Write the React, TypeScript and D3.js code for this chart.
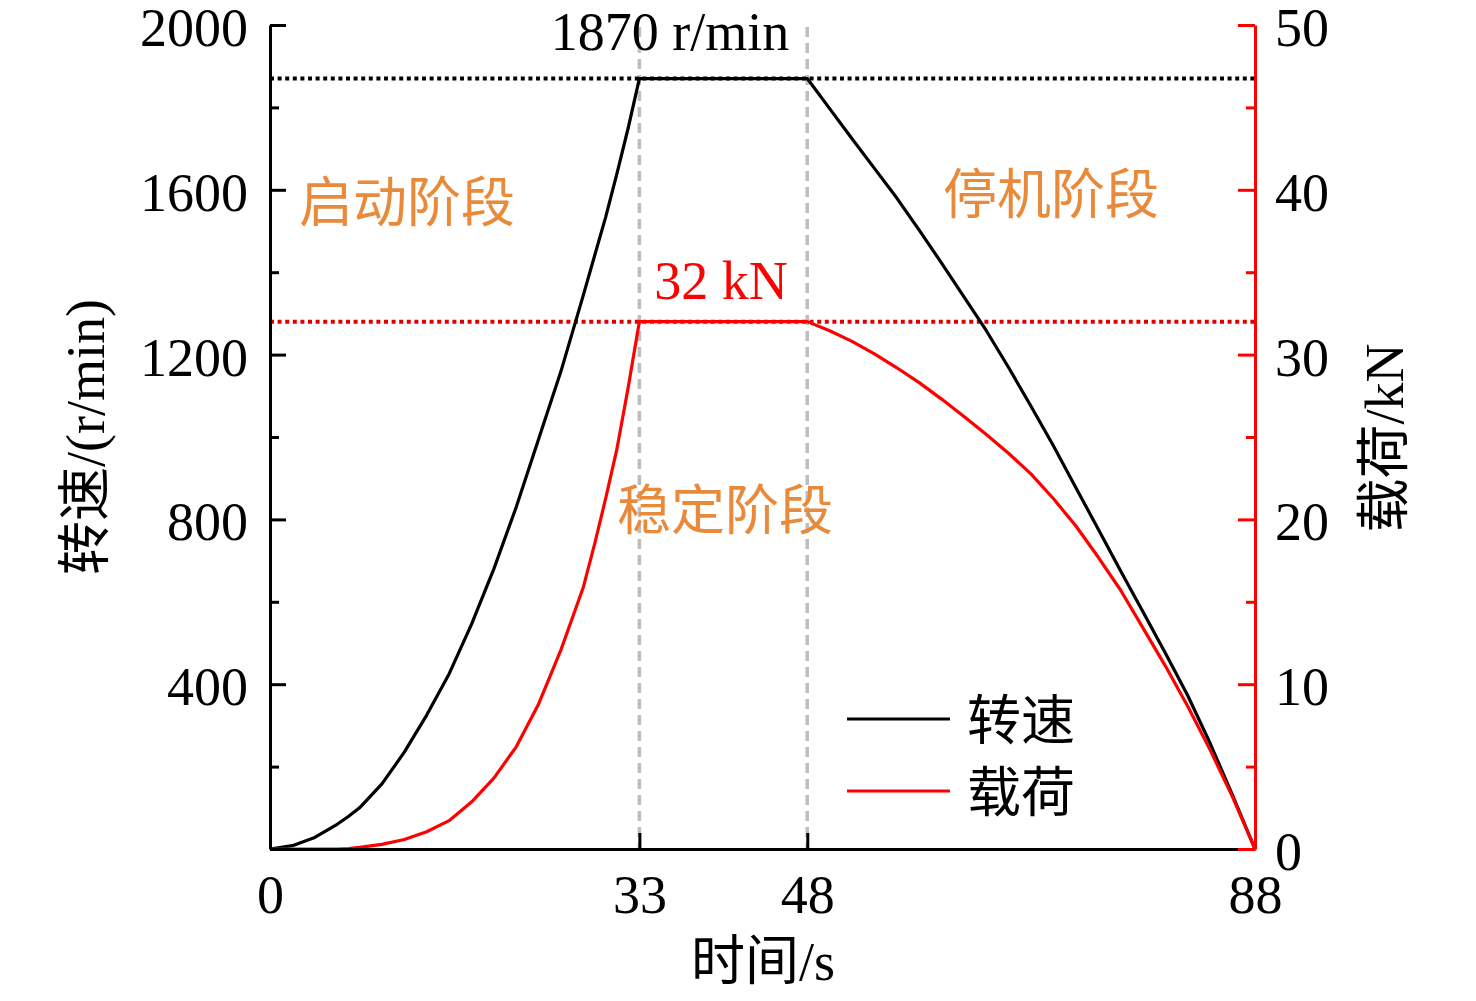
import React, { useRef, useEffect } from 'react';
import * as d3 from 'd3';

// sample times (s) shared by both series
const TIMES = [0, 2, 4, 6, 7, 8, 10, 12, 14, 16, 18, 20, 22, 24, 26, 28, 29, 30, 31, 32, 33,
  48, 50, 52, 54, 56, 58, 60, 62, 64, 66, 68, 70, 72, 74, 76, 78, 80, 82, 84, 86, 88];

// rotational speed, r/min
const SPEED = [0, 8, 28, 60, 79, 100, 158, 235, 325, 425, 545, 680, 830, 995, 1160, 1345, 1440, 1535, 1640, 1750, 1870,
  1870, 1797, 1724, 1652, 1580, 1502, 1422, 1340, 1258, 1168, 1074, 978, 877, 776, 675, 575, 475, 372, 256, 130, 0];

// load, kN
const LOAD = [0, 0, 0, 0, 0.03, 0.1, 0.28, 0.58, 1.05, 1.72, 2.85, 4.3, 6.2, 8.8, 12.1, 15.9, 18.5, 21.3, 24.3, 28.0, 32,
  32, 31.45, 30.8, 30.05, 29.2, 28.3, 27.3, 26.25, 25.15, 24.0, 22.75, 21.25, 19.6, 17.7, 15.7, 13.4, 11.1, 8.65, 6.0, 3.15, 0];

const X_TICKS = [0, 33, 48, 88];
const SPEED_TICKS = [0, 400, 800, 1200, 1600, 2000];
const SPEED_MINOR = [200, 600, 1000, 1400, 1800];
const LOAD_TICKS = [0, 10, 20, 30, 40, 50];
const LOAD_MINOR = [5, 15, 25, 35, 45];

const PEAK_SPEED = 1870;
const PEAK_LOAD = 32;
const PHASE_BOUNDS = [33, 48];

const SERIF = '"Liberation Serif", "Times New Roman", "Noto Sans CJK SC", serif';
const ORANGE = '#E98A3B';
const RED = '#FF0000';

const App: React.FC = () => {
  const svgRef = useRef<SVGSVGElement>(null);

  useEffect(() => {
    if (!svgRef.current) return;
    const W = 1476, H = 1001;
    const left = 270, right = 1255, top = 25, bottom = 849;

    const svg = d3.select(svgRef.current);
    svg.selectAll('*').remove();
    svg.attr('width', W).attr('height', H).attr('viewBox', `0 0 ${W} ${H}`);

    const x = d3.scaleLinear().domain([0, 88]).range([left, right]);
    const yS = d3.scaleLinear().domain([0, 2000]).range([bottom, top]);
    const yL = d3.scaleLinear().domain([0, 50]).range([bottom, top]);

    const styleText = (sel: d3.Selection<any, any, any, any>, color: string) =>
      sel.selectAll('text')
        .attr('fill', color)
        .attr('font-size', '54px')
        .attr('font-family', SERIF);

    // reference lines
    PHASE_BOUNDS.forEach(t => {
      svg.append('line')
        .attr('x1', x(t)).attr('x2', x(t))
        .attr('y1', top + 2).attr('y2', bottom)
        .attr('stroke', '#BDBDBD').attr('stroke-width', 3.5)
        .attr('stroke-dasharray', '10,6');
    });
    svg.append('line')
      .attr('x1', left).attr('x2', right)
      .attr('y1', yS(PEAK_SPEED)).attr('y2', yS(PEAK_SPEED))
      .attr('stroke', '#000').attr('stroke-width', 4)
      .attr('stroke-dasharray', '4,3.6');
    svg.append('line')
      .attr('x1', left).attr('x2', right)
      .attr('y1', yL(PEAK_LOAD)).attr('y2', yL(PEAK_LOAD))
      .attr('stroke', '#E00000').attr('stroke-width', 4)
      .attr('stroke-dasharray', '4,3.6');

    // series
    const speedLine = d3.line<number>().x((_, i) => x(TIMES[i])).y(d => yS(d));
    const loadLine = d3.line<number>().x((_, i) => x(TIMES[i])).y(d => yL(d));
    svg.append('path').datum(SPEED).attr('d', speedLine)
      .attr('fill', 'none').attr('stroke', '#000').attr('stroke-width', 3.2).attr('stroke-linejoin', 'round');
    svg.append('path').datum(LOAD).attr('d', loadLine)
      .attr('fill', 'none').attr('stroke', RED).attr('stroke-width', 3.2).attr('stroke-linejoin', 'round');

    // x axis
    const gx = svg.append('g').attr('transform', `translate(0,${bottom})`)
      .call(d3.axisBottom(x).tickValues(X_TICKS).tickSize(-16).tickSizeOuter(0).tickPadding(26).tickFormat(d3.format('d')));
    gx.select('.domain').attr('stroke', '#000').attr('stroke-width', 3);
    gx.selectAll('line').attr('stroke', '#000').attr('stroke-width', 3);
    styleText(gx, '#000');

    // left axis
    const gl = svg.append('g').attr('transform', `translate(${left},0)`);
    gl.append('g').call(d3.axisLeft(yS).tickValues(SPEED_MINOR).tickSize(-9).tickSizeOuter(0).tickFormat(() => ''))
      .call(g => g.select('.domain').remove())
      .selectAll('line').attr('stroke', '#000').attr('stroke-width', 3);
    const glm = gl.append('g')
      .call(d3.axisLeft(yS).tickValues(SPEED_TICKS).tickSize(-16).tickSizeOuter(0).tickPadding(22)
        .tickFormat(d => (+d === 0 ? '' : String(d))));
    glm.select('.domain').attr('stroke', '#000').attr('stroke-width', 3);
    glm.selectAll('line').attr('stroke', '#000').attr('stroke-width', 3);
    styleText(glm, '#000');
    glm.selectAll('text').attr('dy', '0.38em');

    // right axis
    const gr = svg.append('g').attr('transform', `translate(${right},0)`);
    gr.append('g').call(d3.axisRight(yL).tickValues(LOAD_MINOR).tickSize(-9).tickSizeOuter(0).tickFormat(() => ''))
      .call(g => g.select('.domain').remove())
      .selectAll('line').attr('stroke', RED).attr('stroke-width', 3);
    const grm = gr.append('g')
      .call(d3.axisRight(yL).tickValues(LOAD_TICKS).tickSize(-17).tickSizeOuter(0).tickPadding(20).tickFormat(d3.format('d')));
    grm.select('.domain').attr('stroke', RED).attr('stroke-width', 3);
    grm.selectAll('line').attr('stroke', RED).attr('stroke-width', 3);
    styleText(grm, '#000');
    grm.selectAll('text').attr('dy', '0.38em');

    // axis titles
    const label = (tx: number, ty: number, text: string, color: string, rotate = 0) =>
      svg.append('text')
        .attr('transform', `translate(${tx},${ty}) rotate(${rotate})`)
        .attr('text-anchor', 'middle')
        .attr('dominant-baseline', 'central')
        .attr('font-size', '54px')
        .attr('font-family', SERIF)
        .attr('fill', color)
        .text(text);

    label(763, 962, '时间/s', '#000');
    label(86, 437, '转速/(r/min)', '#000', -90);
    label(1385, 438, '载荷/kN', '#000', -90);

    // annotations
    label(670, 32, `${PEAK_SPEED} r/min`, '#000');
    label(721, 281, `${PEAK_LOAD} kN`, RED);
    label(407, 204, '启动阶段', ORANGE);
    label(1051, 196, '停机阶段', ORANGE);
    label(725, 512, '稳定阶段', ORANGE);

    // legend
    const legend = [
      { name: '转速', color: '#000', y: 719 },
      { name: '载荷', color: RED, y: 791 },
    ];
    legend.forEach(l => {
      svg.append('line').attr('x1', 847).attr('x2', 950).attr('y1', l.y).attr('y2', l.y)
        .attr('stroke', l.color).attr('stroke-width', 3);
      svg.append('text').attr('x', 967).attr('y', l.y + 3)
        .attr('dominant-baseline', 'central')
        .attr('font-size', '54px').attr('font-family', SERIF).attr('fill', '#000')
        .text(l.name);
    });
  }, []);

  return (
    <svg ref={svgRef} style={{ position: 'absolute', left: 0, top: 0, background: '#fff' }} />
  );
};

export default App;
